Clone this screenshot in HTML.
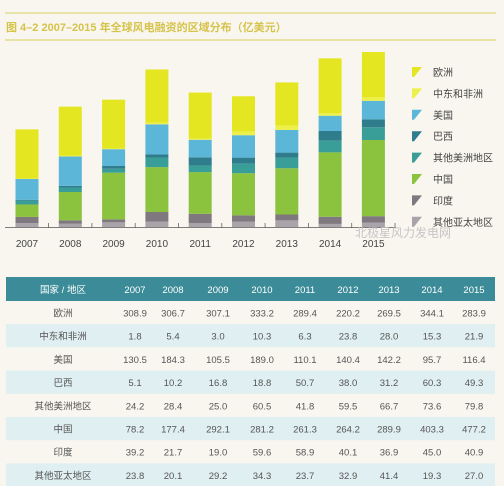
<!DOCTYPE html>
<html><head><meta charset="utf-8">
<style>
body{margin:0;background:#f8f6ee;}
#wrap{position:relative;width:504px;height:486px;overflow:hidden;background:#f8f6ee;font-family:"Liberation Sans","Noto Sans CJK SC",sans-serif;}
svg{position:absolute;left:0;top:0}
</style></head>
<body>
<div id="wrap">
<svg id="chart" width="504" height="486"></svg>
</div>
<script>
const years=["2007","2008","2009","2010","2011","2012","2013","2014","2015"];
const regions=["欧洲","中东和非洲","美国","巴西","其他美洲地区","中国","印度","其他亚太地区"];
const europe=[308.9,306.7,307.1,333.2,289.4,220.2,269.5,344.1,283.9];
const meaf=[1.8,5.4,3.0,10.3,6.3,23.8,28.0,15.3,21.9];
const usa=[130.5,184.3,105.5,189.0,110.1,140.4,142.2,95.7,116.4];
const brazil=[5.1,10.2,16.8,18.8,50.7,38.0,31.2,60.3,49.3];
const otherAm=[24.2,28.4,25.0,60.5,41.8,59.5,66.7,73.6,79.8];
const china=[78.2,177.4,292.1,281.2,261.3,264.2,289.9,403.3,477.2];
const india=[39.2,21.7,19.0,59.6,58.9,40.1,36.9,45.0,40.9];
const otherAp=[23.8,20.1,29.2,34.3,23.7,32.9,41.4,19.3,27.0];
const series=[europe,meaf,usa,brazil,otherAm,china,india,otherAp];
const colors=["#e4e622","#eef04a","#5cb6d8","#2f7d8c","#3a9e98","#8bc23e","#7f797f","#aaa3aa"];
const names=["europe","middle-east-africa","usa","brazil","other-americas","china","india","other-asia-pacific"];

const NS="http://www.w3.org/2000/svg";
const svg=document.getElementById('chart');
function mk(t,a,txt){const e=document.createElementNS(NS,t);for(const k in a)e.setAttribute(k,a[k]);if(txt!==undefined)e.textContent=txt;svg.appendChild(e);return e;}
const base=227, scale=175/1096.4;
const y=v=>base-v*scale;
const xc=i=>27+i*43.3;
const bw=23;

// title
let e=mk('line',{x1:5,y1:13,x2:496,y2:13,stroke:'#d8d060','stroke-width':1});

e=mk('line',{x1:5,y1:40,x2:496,y2:40,stroke:'#d8d060','stroke-width':1});

e=mk('text',{x:6,y:31,'font-size':11,fill:'#d6c34a','font-weight':'bold'},'图 4–2     2007–2015 年全球风电融资的区域分布（亿美元）');


// bars: bottom-up order is reverse of series list
for(let i=0;i<years.length;i++){
  let cum=0;
  for(let s=series.length-1;s>=0;s--){
    const v=series[s][i];
    const r=mk('rect',{x:xc(i)-bw/2,y:y(cum+v),width:bw,height:v*scale,fill:colors[s]});
    
    
    cum+=v;
  }
  const t=mk('text',{x:xc(i),y:247,'font-size':10,fill:'#444','text-anchor':'middle'},years[i]);
  
  
  const tk=mk('line',{x1:xc(i)+21.6,y1:223,x2:xc(i)+21.6,y2:228,stroke:'#666','stroke-width':0.8});
  
  
}
e=mk('line',{x1:5,y1:227.5,x2:396,y2:227.5,stroke:'#555','stroke-width':0.8});


// legend
for(let s=0;s<regions.length;s++){
  const ly=72+s*21.4;
  const p=mk('polygon',{points:`412,${ly-5} 422,${ly-5} 414,${ly+5} 412,${ly+5}`,fill:colors[s]});
  
  
  const t=mk('text',{x:433,y:ly+4,'font-size':10,fill:'#444'},regions[s]);
  
  
}

// watermark
e=mk('text',{x:355,y:237,'font-size':12,fill:'#c8c4c8'},'北极星风力发电网');


// table
const colX=[135,173,218,262,305,348,389,432,474];
e=mk('rect',{x:6,y:277,width:489,height:24,fill:'#3b8c98'});

e=mk('text',{x:63,y:293,'font-size':9.5,fill:'#fff','text-anchor':'middle'},'国家 / 地区');

for(let i=0;i<years.length;i++){
  const t=mk('text',{x:colX[i],y:293,'font-size':9.5,fill:'#fff','text-anchor':'middle'},years[i]);
  
  
}
const rowH=23.2;
for(let s=0;s<regions.length;s++){
  const ry=301+s*rowH;
  if(s%2===1){
    const r=mk('rect',{x:6,y:ry,width:489,height:rowH,fill:'#e0eff1'});
    
    
  }
  const t=mk('text',{x:63,y:ry+15.5,'font-size':9.5,fill:'#555','text-anchor':'middle'},regions[s]);
  
  
  for(let i=0;i<years.length;i++){
    const c=mk('text',{x:colX[i],y:ry+15.5,'font-size':9.5,fill:'#555','text-anchor':'middle'},series[s][i].toFixed(1));
    
    
  }
}
</script>
</body></html>
